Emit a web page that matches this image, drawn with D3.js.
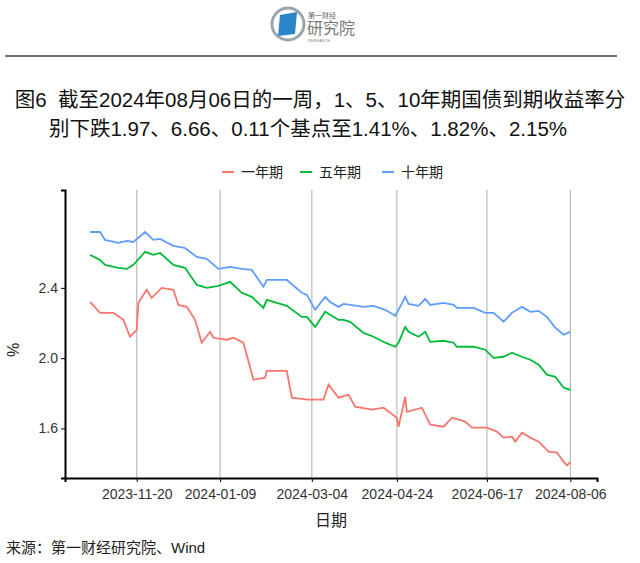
<!DOCTYPE html>
<html><head><meta charset="utf-8">
<script src="https://cdn.jsdelivr.net/npm/d3@7"></script>
<style>body{margin:0;background:#fff}text{font-family:"Liberation Sans","Noto Sans CJK SC",sans-serif}</style>
</head><body><div id="chart"></div>
<script>
// shared dates for 5y and 10y
var dates = ["2023-10-23","2023-10-29","2023-11-01","2023-11-09","2023-11-14","2023-11-18","2023-11-25","2023-11-30","2023-12-04","2023-12-12",
  "2023-12-19","2023-12-26","2024-01-01","2024-01-08","2024-01-15","2024-01-22","2024-01-28","2024-02-04","2024-02-06","2024-02-18",
  "2024-02-27","2024-03-01","2024-03-06","2024-03-12","2024-03-15","2024-03-20","2024-03-23","2024-03-27","2024-04-04","2024-04-10",
  "2024-04-17","2024-04-23","2024-04-25","2024-04-29","2024-05-01","2024-05-07","2024-05-11","2024-05-14","2024-05-22","2024-05-28",
  "2024-05-30","2024-06-09","2024-06-16","2024-06-21","2024-06-27","2024-07-02","2024-07-08","2024-07-13","2024-07-18","2024-07-23",
  "2024-07-28","2024-08-02","2024-08-06"];
var tenYear = [2.718,2.718,2.673,2.656,2.667,2.661,2.718,2.673,2.679,2.639,2.627,2.576,2.565,2.508,2.519,2.508,2.502,2.406,2.445,2.445,
  2.372,2.36,2.275,2.349,2.32,2.292,2.309,2.303,2.292,2.298,2.275,2.241,2.275,2.349,2.309,2.298,2.337,2.303,2.315,2.303,
  2.286,2.286,2.258,2.258,2.207,2.258,2.292,2.264,2.269,2.235,2.173,2.133,2.15];
var fiveYear = [2.588,2.559,2.531,2.514,2.508,2.531,2.605,2.588,2.599,2.531,2.514,2.417,2.4,2.411,2.434,2.372,2.349,2.286,2.332,2.298,
  2.235,2.235,2.178,2.264,2.247,2.218,2.218,2.207,2.144,2.122,2.088,2.065,2.088,2.178,2.15,2.122,2.15,2.093,2.099,2.088,
  2.065,2.065,2.048,2.002,2.008,2.031,2.008,1.991,1.963,1.906,1.894,1.832,1.82];
var oneYearDates = ["2023-10-23","2023-10-29","2023-11-06","2023-11-12","2023-11-16","2023-11-20","2023-11-21","2023-11-26","2023-11-29","2023-12-05",
  "2023-12-12","2023-12-15","2023-12-20","2023-12-25","2023-12-29","2024-01-03","2024-01-05","2024-01-13","2024-01-17","2024-01-23",
  "2024-01-29","2024-02-05","2024-02-06","2024-02-18","2024-02-21","2024-03-02","2024-03-11","2024-03-14","2024-03-20","2024-03-26",
  "2024-03-30","2024-04-09","2024-04-16","2024-04-24","2024-04-25","2024-04-29","2024-04-30","2024-05-09","2024-05-14","2024-05-22",
  "2024-05-27","2024-06-04","2024-06-08","2024-06-17","2024-06-23","2024-06-27","2024-07-02","2024-07-04","2024-07-08","2024-07-13",
  "2024-07-18","2024-07-24","2024-07-29","2024-08-02","2024-08-04","2024-08-06"];
var oneYear = [2.32,2.258,2.258,2.218,2.122,2.161,2.315,2.389,2.343,2.4,2.389,2.303,2.292,2.218,2.088,2.15,2.116,2.105,2.116,2.088,
  1.877,1.889,1.928,1.928,1.775,1.764,1.764,1.849,1.775,1.792,1.724,1.707,1.718,1.661,1.61,1.78,1.695,1.718,1.622,1.61,
  1.661,1.639,1.605,1.605,1.582,1.548,1.553,1.525,1.576,1.548,1.525,1.468,1.463,1.41,1.389,1.41];
var xTicks = ["2023-11-20","2024-01-09","2024-03-04","2024-04-24","2024-06-17","2024-08-06"];
var yTicks = [1.6, 2.0, 2.4];
var seriesNames = ["一年期","五年期","十年期"];
var colors = ["#f8766d","#00ba38","#619cff"];

var parse = d3.timeParse("%Y-%m-%d");
var width = 640, height = 563;
var pLeft = 65, pRight = 597, pTop = 190, pBottom = 478;

var svg = d3.select("#chart").append("svg").attr("width", width).attr("height", height);

// header
var logo = svg.append("g").attr("transform", "translate(288,24)");
logo.append("circle").attr("r", 16).attr("fill", "none").attr("stroke", "#9aa5ae").attr("stroke-width", 3);
logo.append("path").attr("d", "M-8,-9 L9,-12 L7,10 L-10,12 Z").attr("fill", "#2a86c8");
logo.append("text").attr("x", 20).attr("y", -6).attr("font-size", 7).attr("fill", "#666").text("第一财经");
logo.append("text").attr("x", 19).attr("y", 10).attr("font-size", 16).attr("fill", "#777").text("研究院");
logo.append("text").attr("x", 20).attr("y", 18).attr("font-size", 4).attr("fill", "#888").text("RESEARCH");
svg.append("line").attr("x1", 5).attr("x2", 617).attr("y1", 56).attr("y2", 56).attr("stroke", "#444").attr("stroke-width", 1.5);

svg.append("text").attr("x", 320).attr("y", 107).attr("text-anchor", "middle").attr("font-size", 20.5).attr("fill", "#111")
  .attr("xml:space", "preserve").text("图6  截至2024年08月06日的一周，1、5、10年期国债到期收益率分");
svg.append("text").attr("x", 308).attr("y", 136).attr("text-anchor", "middle").attr("font-size", 20.5).attr("fill", "#111")
  .text("别下跌1.97、6.66、0.11个基点至1.41%、1.82%、2.15%");

// legend
var lx = [222, 300, 382];
seriesNames.forEach(function(n, i) {
  svg.append("line").attr("x1", lx[i]).attr("x2", lx[i] + 12).attr("y1", 172).attr("y2", 172)
    .attr("stroke", colors[i]).attr("stroke-width", 2);
  svg.append("text").attr("x", lx[i] + 19).attr("y", 177).attr("font-size", 14).attr("fill", "#222").text(n);
});

var x = d3.scaleTime().domain([parse("2023-10-08"), parse("2024-08-22")]).range([pLeft, pRight]);
var y = d3.scaleLinear().domain([1.318, 2.957]).range([pBottom, pTop]);

// vertical grid
svg.append("g").selectAll("line").data(xTicks).enter().append("line")
  .attr("x1", function(d) { return x(parse(d)); }).attr("x2", function(d) { return x(parse(d)); })
  .attr("y1", pTop).attr("y2", pBottom).attr("stroke", "#bbb").attr("stroke-width", 1.2);

var line = d3.line().x(function(d) { return x(d[0]); }).y(function(d) { return y(d[1]); });
var series = [
  oneYearDates.map(function(d, i) { return [parse(d), oneYear[i]]; }),
  dates.map(function(d, i) { return [parse(d), fiveYear[i]]; }),
  dates.map(function(d, i) { return [parse(d), tenYear[i]]; })
];
series.forEach(function(s, i) {
  svg.append("path").datum(s).attr("d", line).attr("fill", "none").attr("stroke", colors[i]).attr("stroke-width", 1.8);
});

var xAxis = svg.append("g").attr("transform", "translate(0," + pBottom + ")")
  .call(d3.axisBottom(x).tickValues(xTicks.map(parse)).tickFormat(d3.timeFormat("%Y-%m-%d")).tickSizeOuter(0).tickSize(4));
xAxis.selectAll("text").attr("font-size", 14).attr("fill", "#333").attr("dy", "1.0em");
xAxis.select(".domain").attr("stroke-width", 2);
var yAxis = svg.append("g").attr("transform", "translate(" + pLeft + ",0)")
  .call(d3.axisLeft(y).tickValues(yTicks).tickFormat(d3.format(".1f")).tickSizeOuter(0).tickSize(4));
yAxis.selectAll("text").attr("font-size", 14).attr("fill", "#333");
yAxis.select(".domain").attr("stroke-width", 2);

svg.append("text").attr("x", 331).attr("y", 526).attr("text-anchor", "middle").attr("font-size", 16).attr("fill", "#222").text("日期");
svg.append("text").attr("transform", "translate(19,350) rotate(-90)").attr("text-anchor", "middle")
  .attr("font-size", 16).attr("fill", "#222").text("%");
svg.append("text").attr("x", 6).attr("y", 553).attr("font-size", 15).attr("fill", "#222").text("来源：第一财经研究院、Wind");
</script></body></html>
